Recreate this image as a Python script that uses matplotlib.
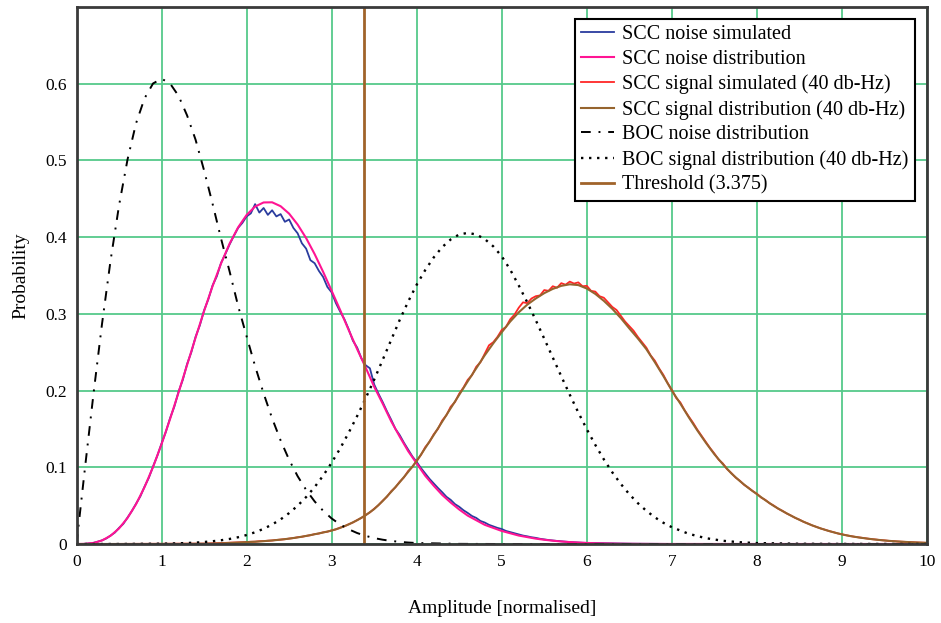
import numpy as np
import matplotlib
matplotlib.use('Agg')
import matplotlib.pyplot as plt

plt.rcParams['font.family'] = ['Liberation Serif', 'DejaVu Serif']

# ---- data ----
# SCC noise distribution, x = 0.0 .. 7.0 step 0.1, then 10
scc_noise_dist_x = list(np.round(np.arange(0, 7.001, 0.1), 2)) + [10.0]
scc_noise_dist = [0, 0.0002, 0.0014, 0.0046, 0.0107, 0.0203, 0.0340, 0.0519, 0.0742, 0.1004,
                  0.1302, 0.1629, 0.1976, 0.2333, 0.2690, 0.3036, 0.3362, 0.3658, 0.3915, 0.4127,
                  0.4289, 0.4399, 0.4452, 0.4454, 0.4403, 0.4306, 0.4164, 0.3987, 0.3779, 0.3547,
                  0.3300, 0.3050, 0.2790, 0.2540, 0.2300, 0.2050, 0.1830, 0.1600, 0.1400, 0.1210,
                  0.1050, 0.0890, 0.0760, 0.0640, 0.0540, 0.0450, 0.0370, 0.0310, 0.0250, 0.0210,
                  0.0170, 0.0140, 0.0110, 0.0090, 0.0070, 0.0055, 0.0043, 0.0033, 0.0025, 0.0019,
                  0.0014, 0.0010, 0.0008, 0.0006, 0.0004, 0.0003, 0.0002, 0.00015, 0.0001, 0.00007,
                  0.00005, 0]

# SCC noise simulated, x = 0.0 .. 6.0 step 0.05, then tail
scc_noise_sim_x = list(np.round(np.arange(0, 6.001, 0.05), 2)) + [6.5, 7.0, 10.0]
scc_noise_sim = [0, 0, 0.0002, 0.0008, 0.0015, 0.0030, 0.0048, 0.0072, 0.0110, 0.0148,
                 0.0210, 0.0262, 0.0345, 0.0428, 0.0525, 0.0620, 0.0748, 0.0862, 0.1010, 0.1150,
                 0.1310, 0.1460, 0.1640, 0.1790, 0.1985, 0.2140, 0.2345, 0.2500, 0.2700, 0.2850,
                 0.3045, 0.3190, 0.3370, 0.3490, 0.3665, 0.3780, 0.3905, 0.4015, 0.4120, 0.4185,
                 0.4270, 0.4310, 0.4430, 0.4320, 0.4380, 0.4290, 0.4350, 0.4270, 0.4300, 0.4200,
                 0.4230, 0.4120, 0.4050, 0.3920, 0.3850, 0.3700, 0.3660, 0.3560, 0.3480, 0.3350,
                 0.3280, 0.3140, 0.3030, 0.2930, 0.2800, 0.2650, 0.2560, 0.2420, 0.2330, 0.2290,
                 0.2080, 0.1960, 0.1850, 0.1730, 0.1620, 0.1500, 0.1420, 0.1320, 0.1230, 0.1140,
                 0.1070, 0.0990, 0.0920, 0.0850, 0.0790, 0.0730, 0.0675, 0.0615, 0.0575, 0.0520,
                 0.0485, 0.0440, 0.0405, 0.0365, 0.0340, 0.0300, 0.0280, 0.0250, 0.0230, 0.0210,
                 0.0195, 0.0170, 0.0155, 0.0140, 0.0125, 0.0110, 0.0100, 0.0088, 0.0080, 0.0068,
                 0.0060, 0.0052, 0.0046, 0.0040, 0.0035, 0.0030, 0.0026, 0.0022, 0.0019, 0.0016,
                 0.0014, 0.0004, 0.0001, 0]

# SCC signal simulated (40 dB-Hz), x = 0, 1.5, then 2.0 .. 10.0 step 0.05
scc_sig_sim_x = [0.0, 1.5] + list(np.round(np.arange(2.0, 10.001, 0.05), 2))
scc_sig_sim = [0, 0.0005,
               0.0025, 0.0029, 0.0030, 0.0036, 0.0038, 0.0043, 0.0046, 0.0053, 0.0058, 0.0062,
               0.0071, 0.0077, 0.0088, 0.0094, 0.0106, 0.0114, 0.0129, 0.0136, 0.0152, 0.0160,
               0.0178, 0.0190, 0.0214, 0.0230, 0.0258, 0.0280, 0.0312, 0.0340, 0.0378, 0.0412,
               0.0460, 0.0505, 0.0565, 0.0615, 0.0688, 0.0738, 0.0812, 0.0868, 0.0952, 0.1005,
               0.1090, 0.1160, 0.1262, 0.1330, 0.1430, 0.1500, 0.1610, 0.1680, 0.1790, 0.1850,
               0.1960, 0.2040, 0.2140, 0.2200, 0.2310, 0.2370, 0.2480, 0.2590, 0.2630, 0.2700,
               0.2790, 0.2830, 0.2930, 0.2990, 0.3080, 0.3150, 0.3140, 0.3200, 0.3230, 0.3240,
               0.3310, 0.3300, 0.3360, 0.3340, 0.3400, 0.3380, 0.3420, 0.3395, 0.3410, 0.3360,
               0.3365, 0.3300, 0.3290, 0.3230, 0.3210, 0.3150, 0.3090, 0.3050, 0.2975, 0.2900,
               0.2840, 0.2780, 0.2700, 0.2630, 0.2560, 0.2460, 0.2390, 0.2290, 0.2205, 0.2100,
               0.2010, 0.1905, 0.1845, 0.1745, 0.1660, 0.1580, 0.1490, 0.1410, 0.1330, 0.1250,
               0.1180, 0.1100, 0.1050, 0.0975, 0.0925, 0.0865, 0.0825, 0.0770, 0.0735, 0.0690,
               0.0655, 0.0605, 0.0575, 0.0530, 0.0500, 0.0460, 0.0433, 0.0398, 0.0372, 0.0340,
               0.0318, 0.0288, 0.0268, 0.0242, 0.0224, 0.0202, 0.0187, 0.0168, 0.0155, 0.0138,
               0.0127, 0.0114, 0.0104, 0.0094, 0.0086, 0.0077, 0.0071, 0.0063, 0.0058, 0.0051,
               0.0047, 0.0041, 0.0038, 0.0033, 0.0030, 0.0027, 0.0024, 0.0021, 0.0019, 0.0017,
               0.0015]

# SCC signal distribution (40 dB-Hz), x = 0, 1.0, then 1.1 .. 10.0 step 0.1
scc_sig_dist_x = [0.0, 1.0] + list(np.round(np.arange(1.1, 10.001, 0.1), 2))
scc_sig_dist = [0, 0,
                0.0001, 0.0001, 0.0002, 0.0003, 0.0004, 0.0006, 0.0009, 0.0014, 0.0019,
                0.0025, 0.0030, 0.0037, 0.0046, 0.0057, 0.0070, 0.0086, 0.0105, 0.0127, 0.0150,
                0.0175, 0.0210, 0.0255, 0.0310, 0.0375, 0.0455, 0.0560, 0.0680, 0.0805, 0.0940,
                0.1080, 0.1250, 0.1420, 0.1595, 0.1770, 0.1945, 0.2120, 0.2290, 0.2460, 0.2615,
                0.2760, 0.2900, 0.3020, 0.3120, 0.3200, 0.3270, 0.3325, 0.3365, 0.3385, 0.3375,
                0.3330, 0.3260, 0.3170, 0.3065, 0.2945, 0.2810, 0.2680, 0.2540, 0.2370, 0.2190,
                0.2000, 0.1830, 0.1650, 0.1480, 0.1320, 0.1170, 0.1040, 0.0920, 0.0820, 0.0730,
                0.0650, 0.0570, 0.0495, 0.0430, 0.0370, 0.0315, 0.0265, 0.0222, 0.0185, 0.0153,
                0.0125, 0.0103, 0.0085, 0.0070, 0.0057, 0.0046, 0.0037, 0.0030, 0.0024, 0.0019,
                0.0015]

# BOC noise distribution, x = 0.0 .. 4.0 step 0.1, then tail
boc_noise_x = list(np.round(np.arange(0, 4.001, 0.1), 2)) + [4.5, 5.0, 10.0]
boc_noise = [0, 0.0995, 0.1960, 0.2869, 0.3692, 0.4412, 0.5012, 0.5483, 0.5809, 0.6003,
             0.6065, 0.6003, 0.5841, 0.5587, 0.5270, 0.4870, 0.4434, 0.3979, 0.3553, 0.3104,
             0.2707, 0.2318, 0.1963, 0.1638, 0.1350, 0.1098, 0.0884, 0.0705, 0.0555, 0.0433,
             0.0333, 0.0254, 0.0192, 0.0143, 0.0106, 0.0077, 0.0056, 0.0040, 0.0028, 0.0019,
             0.0013, 0.0002, 0, 0]

# BOC signal distribution (40 dB-Hz), x = 0, 0.5, then 1.0 .. 7.0 step 0.1, then tail
boc_sig_x = [0.0, 0.5] + list(np.round(np.arange(1.0, 7.001, 0.1), 2)) + [7.2, 7.4, 7.6, 7.8, 8.0, 8.5, 9.0, 10.0]
boc_sig = [0, 0,
           0.0004, 0.0006, 0.0009, 0.0013, 0.0018, 0.0026, 0.0036, 0.0049, 0.0066, 0.0088,
           0.0117, 0.0153, 0.0198, 0.0254, 0.0321, 0.0403, 0.0499, 0.0612, 0.0742, 0.0891,
           0.1060, 0.1245, 0.1450, 0.1668, 0.1900, 0.2142, 0.2400, 0.2660, 0.2920, 0.3160,
           0.3380, 0.3570, 0.3735, 0.3870, 0.3970, 0.4035, 0.4055, 0.4035, 0.3975, 0.3880,
           0.3750, 0.3575, 0.3370, 0.3150, 0.2918, 0.2676, 0.2431, 0.2186, 0.1946, 0.1715,
           0.1496, 0.1292, 0.1104, 0.0934, 0.0783, 0.0649, 0.0533, 0.0433, 0.0348, 0.0277,
           0.0219,
           0.0132, 0.0076, 0.0042, 0.0023, 0.0012, 0.0003, 0.0001, 0]

threshold = 3.375

xticks = list(range(0, 11))
yticks = [0, 0.1, 0.2, 0.3, 0.4, 0.5, 0.6]
ytick_labels = ['0', '0.1', '0.2', '0.3', '0.4', '0.5', '0.6']

# ---- figure ----
fig = plt.figure(figsize=(9.41, 6.23), dpi=100)
ax = fig.add_axes([0.0813, 0.1268, 0.9038, 0.862])

ax.plot(scc_noise_sim_x, scc_noise_sim, color='#2a3c9e', lw=1.3, label='SCC noise simulated')
ax.plot(scc_noise_dist_x, scc_noise_dist, color='#ff1493', lw=1.5, label='SCC noise distribution')
ax.plot(scc_sig_sim_x, scc_sig_sim, color='#ff2626', lw=1.3, label='SCC signal simulated (40 db-Hz)')
ax.plot(scc_sig_dist_x, scc_sig_dist, color='#96642e', lw=1.5, label='SCC signal distribution (40 db-Hz)')
ax.plot(boc_noise_x, boc_noise, color='black', lw=1.4, linestyle=(0, (5, 4, 1, 4)),
        label='BOC noise distribution')
ax.plot(boc_sig_x, boc_sig, color='black', lw=1.7, linestyle=(0, (1, 2.4)),
        label='BOC signal distribution (40 db-Hz)')
ax.axvline(threshold, color='#a0632a', lw=2.0, label='Threshold (3.375)')

ax.set_xlim(0, 10)
ax.set_ylim(0, 0.7)
ax.set_xticks(xticks)
ax.set_xticklabels([str(t) for t in xticks])
ax.set_yticks(yticks)
ax.set_yticklabels(ytick_labels)
ax.tick_params(length=0, labelsize=12.5, pad=7)
ax.grid(True, color='#55c98a', lw=1.3)
ax.set_axisbelow(True)
for sp in ax.spines.values():
    sp.set_color('#3a3a3a')
    sp.set_linewidth(2)

ax.set_xlabel('Amplitude [normalised]', fontsize=14, labelpad=22)
ax.set_ylabel('Probability', fontsize=14, labelpad=11)

leg = ax.legend(loc='upper right', fontsize=14.5, fancybox=False, framealpha=1,
                edgecolor='black', handlelength=1.65, handletextpad=0.4,
                labelspacing=0.28, borderpad=0.3, borderaxespad=0.6)
leg.get_frame().set_linewidth(1.5)

fig.savefig('out.png', dpi=100)
